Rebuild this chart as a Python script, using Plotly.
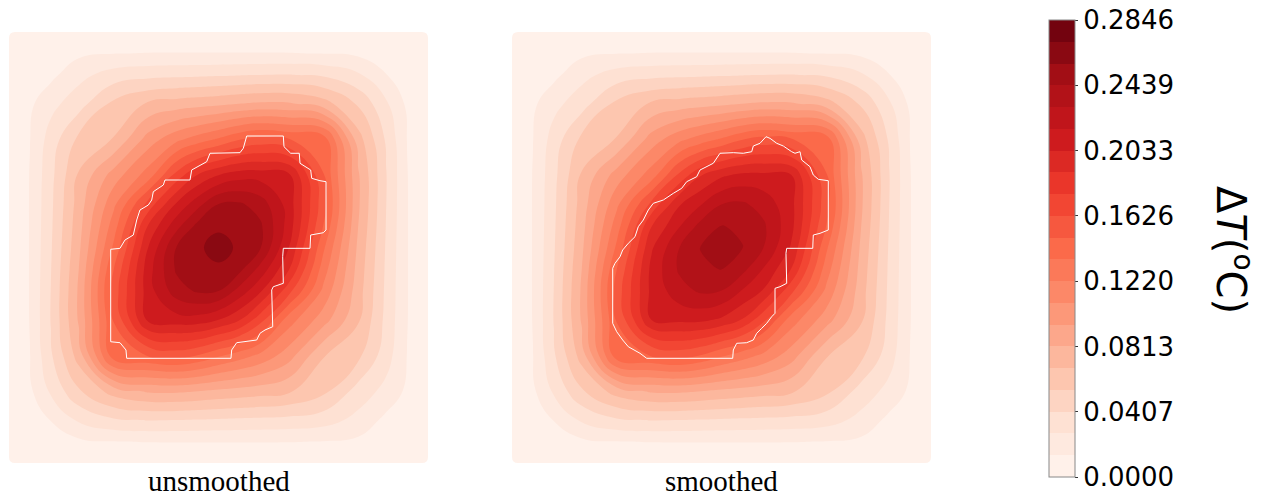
import plotly.graph_objects as go
from plotly.colors import sequential, sample_colorscale

# ---------------- data ----------------
grid_x = [0, .05, .1, .1667, .25, .3333, .4, .45, .5, .55, .6, .6667, .75, .8333, .9, .95, 1]
grid_y = [0, .05, .1, .1667, .25, .3333, .4, .45, .5, .55, .6, .6667, .75, .8333, .9, .95, 1]

# temperature rise (degC), rows = y (bottom -> top), columns = x (left -> right)
dT_unsmoothed = [
    [0]*17,
    [0, 0, .0054, .0110, .0133, .0141, .0142, .0142, .0142, .0142, .0142, .0141, .0133, .0110, .0054, 0, 0],
    [0, .0054, .0141, .0293, .0388, .0413, .0409, .0402, .0393, .0385, .0378, .0367, .0332, .0229, .0102, .0054, 0],
    [0, .0110, .0293, .0524, .0740, .0832, .0835, .0814, .0786, .0763, .0740, .0697, .0579, .0348, .0229, .0110, 0],
    [0, .0133, .0388, .0740, .1450, .1498, .1548, .1489, .1382, .1290, .1190, .1014, .0687, .0579, .0332, .0133, 0],
    [0, .0141, .0413, .0832, .1498, .2078, .2115, .2115, .2042, .1915, .1686, .1293, .1014, .0697, .0367, .0141, 0],
    [0, .0142, .0409, .0835, .1548, .2115, .2378, .2462, .2446, .2258, .2053, .1686, .1190, .0740, .0378, .0142, 0],
    [0, .0142, .0402, .0814, .1489, .2115, .2462, .2536, .2548, .2479, .2258, .1915, .1290, .0763, .0385, .0142, 0],
    [0, .0142, .0393, .0786, .1382, .2042, .2446, .2548, .2636, .2548, .2446, .2042, .1382, .0786, .0393, .0142, 0],
    [0, .0142, .0385, .0763, .1290, .1915, .2258, .2479, .2548, .2536, .2462, .2115, .1489, .0814, .0402, .0142, 0],
    [0, .0142, .0378, .0740, .1190, .1686, .2053, .2258, .2446, .2462, .2378, .2115, .1548, .0835, .0409, .0142, 0],
    [0, .0141, .0367, .0697, .1014, .1293, .1686, .1915, .2042, .2115, .2115, .2078, .1498, .0832, .0413, .0141, 0],
    [0, .0133, .0332, .0579, .0687, .1014, .1190, .1290, .1382, .1489, .1548, .1498, .1450, .0740, .0388, .0133, 0],
    [0, .0110, .0229, .0348, .0579, .0697, .0740, .0763, .0786, .0814, .0835, .0832, .0740, .0524, .0293, .0110, 0],
    [0, .0054, .0102, .0229, .0332, .0367, .0378, .0385, .0393, .0402, .0409, .0413, .0388, .0293, .0141, .0054, 0],
    [0, 0, .0054, .0110, .0133, .0141, .0142, .0142, .0142, .0142, .0142, .0141, .0133, .0110, .0054, 0, 0],
    [0]*17,
]

dT_smoothed = [
    [0]*17,
    [0, 0, .0054, .0110, .0133, .0141, .0142, .0142, .0142, .0142, .0142, .0141, .0133, .0110, .0054, 0, 0],
    [0, .0054, .0141, .0293, .0388, .0413, .0409, .0402, .0393, .0385, .0378, .0367, .0332, .0229, .0102, .0054, 0],
    [0, .0110, .0293, .0524, .0740, .0832, .0835, .0814, .0786, .0763, .0740, .0697, .0579, .0348, .0229, .0110, 0],
    [0, .0133, .0388, .0740, .1450, .1498, .1548, .1489, .1382, .1290, .1190, .1014, .0687, .0579, .0332, .0133, 0],
    [0, .0141, .0413, .0832, .1498, .2042, .2073, .2072, .2015, .1893, .1668, .1293, .1014, .0697, .0367, .0141, 0],
    [0, .0142, .0409, .0835, .1548, .2073, .2251, .2327, .2304, .2160, .2023, .1668, .1190, .0740, .0378, .0142, 0],
    [0, .0142, .0402, .0814, .1489, .2072, .2327, .2426, .2442, .2347, .2160, .1893, .1290, .0763, .0385, .0142, 0],
    [0, .0142, .0393, .0786, .1382, .2015, .2304, .2442, .2500, .2442, .2304, .2015, .1382, .0786, .0393, .0142, 0],
    [0, .0142, .0385, .0763, .1290, .1893, .2160, .2347, .2442, .2426, .2327, .2072, .1489, .0814, .0402, .0142, 0],
    [0, .0142, .0378, .0740, .1190, .1668, .2023, .2160, .2304, .2327, .2251, .2073, .1548, .0835, .0409, .0142, 0],
    [0, .0141, .0367, .0697, .1014, .1293, .1668, .1893, .2015, .2072, .2073, .2042, .1498, .0832, .0413, .0141, 0],
    [0, .0133, .0332, .0579, .0687, .1014, .1190, .1290, .1382, .1489, .1548, .1498, .1450, .0740, .0388, .0133, 0],
    [0, .0110, .0229, .0348, .0579, .0697, .0740, .0763, .0786, .0814, .0835, .0832, .0740, .0524, .0293, .0110, 0],
    [0, .0054, .0102, .0229, .0332, .0367, .0378, .0385, .0393, .0402, .0409, .0413, .0388, .0293, .0141, .0054, 0],
    [0, 0, .0054, .0110, .0133, .0141, .0142, .0142, .0142, .0142, .0142, .0141, .0133, .0110, .0054, 0, 0],
    [0]*17,
]

# region boundary outlines (white lines)
region_unsmoothed_x = [.5673, .6547, .6563, .6723, .6928, .6945, .7200, .7224, .7422, .7566, .7566, .7501,
                       .7200, .7184, .6547, .6532, .6547, .6308, .6270, .6294, .6110, .5990, .5912, .5673,
                       .5434, .5315, .5298, .2809, .2792, .2649, .2427, .2427, .2649, .2768, .2967, .3048,
                       .3126, .3325, .3406, .3444, .3683, .3723, .4320, .4360, .4558, .4718, .4797, .5513,
                       .5592, .5673]
region_unsmoothed_y = [.7587, .7587, .7339, .7186, .7186, .6954, .6798, .6605, .6550, .6527, .5406, .5343,
                       .5290, .4981, .4981, .4787, .4169, .4090, .4014, .3162, .3086, .3009, .2854, .2814,
                       .2791, .2622, .2429, .2429, .2622, .2791, .2814, .4958, .4981, .5174, .5290, .5638,
                       .5870, .5986, .6102, .6295, .6450, .6566, .6566, .6798, .6914, .6991, .7186, .7200,
                       .7302, .7587]

region_smoothed_x = [.6062, .6158, .6317, .6475, .6675, .6754, .6874, .6914, .7112, .7191, .7311, .7549,
                     .7549, .7351, .7191, .7177, .6556, .6539, .6556, .6396, .6277, .6277, .6198, .6079,
                     .5959, .5840, .5759, .5601, .5363, .5282, .5267, .3215, .3055, .2895, .2776, .2642,
                     .2499, .2403, .2403, .2458, .2578, .2642, .2776, .2936, .3014, .3134, .3253, .3372,
                     .3611, .3850, .4050, .4169, .4408, .4487, .4685, .4804, .4964, .5282, .5520, .5721,
                     .5759, .5919, .6062]
region_smoothed_y = [.7571, .7533, .7418, .7355, .7223, .7186, .7223, .7030, .6875, .6682, .6582, .6550,
                     .5406, .5329, .5290, .4981, .4981, .4865, .4169, .4090, .4053, .3473, .3394, .3241,
                     .3125, .3009, .2854, .2791, .2777, .2622, .2429, .2429, .2545, .2622, .2698, .2854,
                     .3046, .3241, .4517, .4633, .4787, .4942, .5097, .5251, .5483, .5638, .5870, .6025,
                     .6102, .6257, .6373, .6527, .6643, .6798, .6891, .6954, .7186, .7200, .7186, .7223,
                     .7355, .7418, .7571]

panel_labels = ["unsmoothed", "smoothed"]
dT_max = 0.2846
n_levels = 21
tick_vals = [0.0, 0.040657, 0.081314, 0.121971, 0.162629, 0.203286, 0.243943, 0.2846]
tick_text = ["0.0000", "0.0407", "0.0813", "0.1220", "0.1626", "0.2033", "0.2439", "0.2846"]

# ---------------- styling ----------------
W, H = 1263, 496
step = dT_max / n_levels
band_colors = sample_colorscale(sequential.Reds, [(k + 0.5) / n_levels for k in range(n_levels)])
contour_scale = [[k / (n_levels - 1), band_colors[k]] for k in range(n_levels)]
bar_scale = []
for k in range(n_levels):
    bar_scale.append([k / n_levels, band_colors[k]])
    bar_scale.append([(k + 1) / n_levels, band_colors[k]])

fig = go.Figure()
for idx, (z, rx, ry) in enumerate([(dT_unsmoothed, region_unsmoothed_x, region_unsmoothed_y),
                                   (dT_smoothed, region_smoothed_x, region_smoothed_y)]):
    ax = "" if idx == 0 else "2"
    fig.add_trace(go.Contour(
        x=grid_x, y=grid_y, z=z,
        autocontour=False,
        contours=dict(start=step, end=step * (n_levels - 1) + step * 0.01, size=step,
                      coloring="fill", showlines=False),
        colorscale=contour_scale, showscale=False,
        line=dict(width=0, smoothing=1.3),
        xaxis="x" + ax, yaxis="y" + ax, hoverinfo="skip",
    ))
    fig.add_trace(go.Scatter(
        x=rx, y=ry, mode="lines", line=dict(color="white", width=1),
        xaxis="x" + ax, yaxis="y" + ax, showlegend=False, hoverinfo="skip",
    ))

# colour bar carrier
fig.add_trace(go.Scatter(
    x=[-5], y=[-5], mode="markers", showlegend=False, hoverinfo="skip",
    marker=dict(color=[0], cmin=0, cmax=dT_max, colorscale=bar_scale, showscale=True, size=1,
                colorbar=dict(
                    x=1049 / W, xanchor="left", xpad=0,
                    y=(H - 248.5) / H, yanchor="middle", ypad=0,
                    len=457, lenmode="pixels", thickness=26, thicknessmode="pixels",
                    outlinewidth=1, outlinecolor="#888888",
                    tickvals=tick_vals, ticktext=tick_text,
                    ticks="outside", ticklen=3, tickcolor="#333333", tickwidth=1,
                    tickfont=dict(family="DejaVu Sans", size=26, color="black"),
                )),
))

# rounded panel corners (white masks)
def px(xp, yp):
    return f"{xp / W:.6f},{(H - yp) / H:.6f}"

shapes = []
r = 6
for (L, T, R, B) in [(9, 32, 428, 463), (512, 32, 931, 463)]:
    for (cx, cy, sx, sy) in [(L, T, 1, 1), (R, T, -1, 1), (L, B, 1, -1), (R, B, -1, -1)]:
        path = ("M" + px(cx, cy) + " L" + px(cx + sx * r, cy) + " Q" + px(cx, cy) + " " +
                px(cx, cy + sy * r) + " Z")
        shapes.append(dict(type="path", path=path, xref="paper", yref="paper",
                           fillcolor="white", line=dict(width=0), layer="above"))

ax_style = dict(range=[0, 1], showgrid=False, zeroline=False, showticklabels=False,
                showline=False, ticks="", fixedrange=True)
y0, y1 = (H - 463) / H, (H - 32) / H
fig.update_layout(
    width=W, height=H, margin=dict(l=0, r=0, t=0, b=0),
    paper_bgcolor="white", plot_bgcolor="white", showlegend=False,
    xaxis=dict(domain=[9 / W, 428 / W], **ax_style),
    yaxis=dict(domain=[y0, y1], **ax_style),
    xaxis2=dict(domain=[512 / W, 931 / W], anchor="y2", **ax_style),
    yaxis2=dict(domain=[y0, y1], anchor="x2", **ax_style),
    shapes=shapes,
    annotations=[
        dict(text=panel_labels[0], x=218.5 / W, y=0, xref="paper", yref="paper",
             showarrow=False, xanchor="center", yanchor="bottom", yshift=-3,
             font=dict(family="Liberation Serif", size=29, color="black")),
        dict(text=panel_labels[1], x=721.5 / W, y=0, xref="paper", yref="paper",
             showarrow=False, xanchor="center", yanchor="bottom", yshift=-3,
             font=dict(family="Liberation Serif", size=29, color="black")),
        dict(text="Δ<i>T</i>(<sup>o</sup>C)", x=1234 / W, y=(H - 250) / H, xref="paper", yref="paper",
             showarrow=False, xanchor="center", yanchor="middle", textangle=90,
             font=dict(family="DejaVu Sans", size=40, color="black")),
    ],
)

fig.write_html("out.html")
